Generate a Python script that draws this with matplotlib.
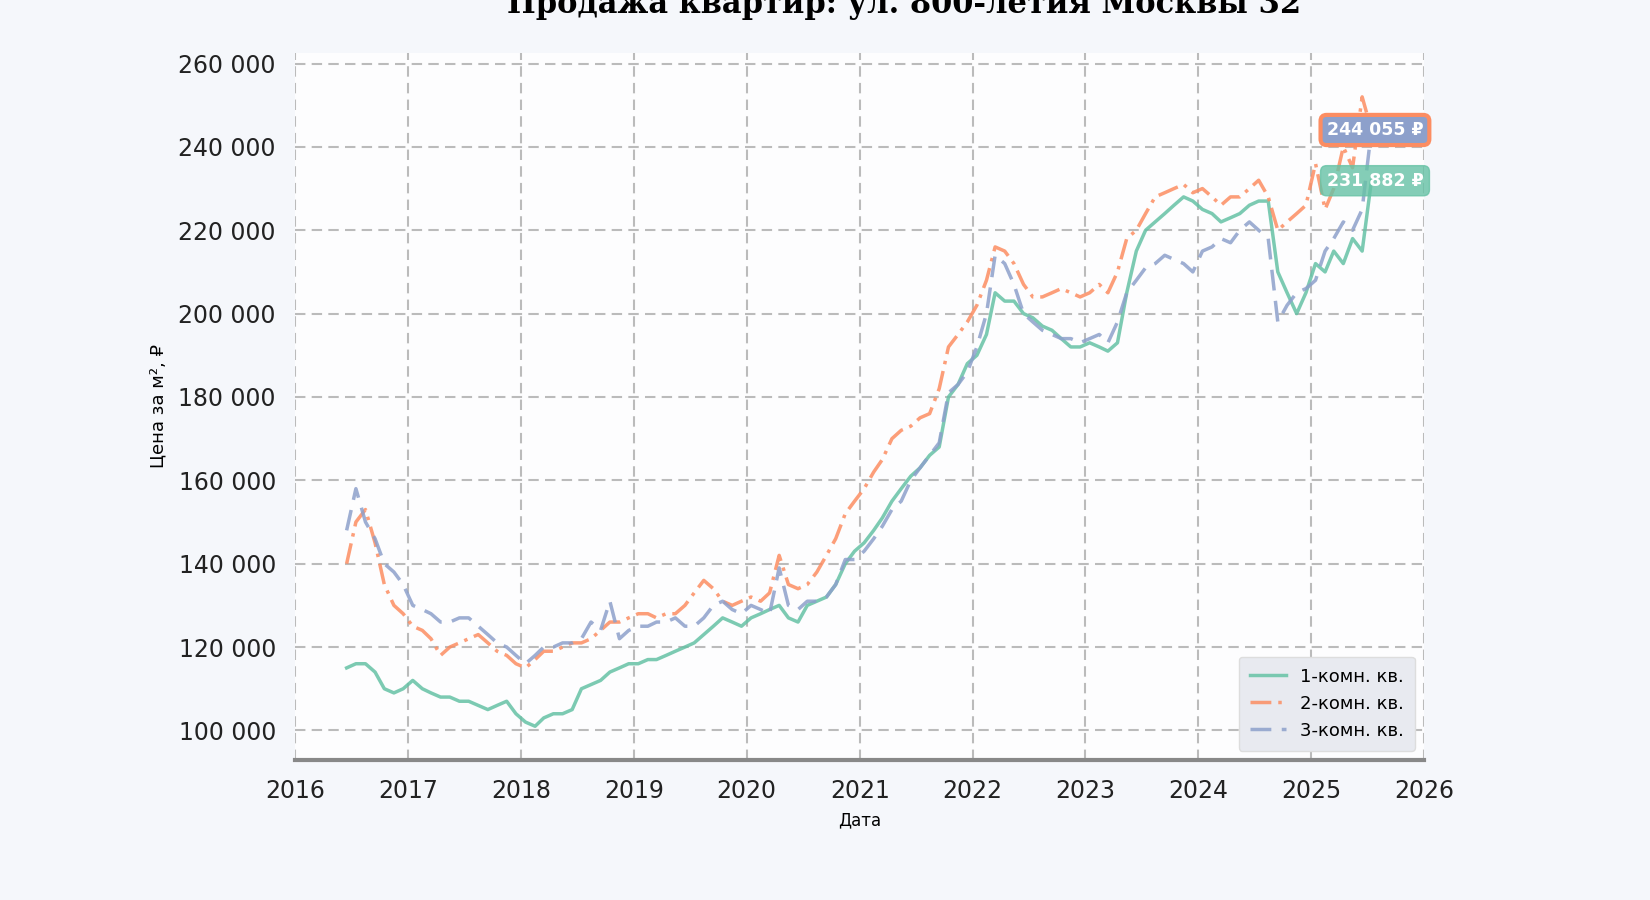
import numpy as np
import pandas as pd
import matplotlib
matplotlib.use("Agg")
import matplotlib.pyplot as plt
import matplotlib.ticker as mticker
import matplotlib.dates as mdates

dates = pd.date_range("2016-06-01", "2025-07-01", freq="MS") + pd.Timedelta(days=14)

one_room = [115, 116, 116, 114, 110, 109, 110,
            112, 110, 109, 108, 108, 107, 107, 106, 105, 106, 107, 104,
            102, 101, 103, 104, 104, 105, 110, 111, 112, 114, 115, 116,
            116, 117, 117, 118, 119, 120, 121, 123, 125, 127, 126, 125,
            127, 128, 129, 130, 127, 126, 130, 131, 132, 135, 140, 143,
            145, 148, 151, 155, 158, 161, 163, 166, 168, 180, 183, 188,
            190, 195, 205, 203, 203, 200, 199, 197, 196, 194, 192, 192,
            193, 192, 191, 193, 205, 215, 220, 222, 224, 226, 228, 227,
            225, 224, 222, 223, 224, 226, 227, 227, 210, 205, 200, 205,
            212, 210, 215, 212, 218, 215, 231.882]
two_room = [140, 150, 153, 145, 135, 130, 128,
            125, 124, 122, 118, 120, 121, 122, 123, 121, 119, 118, 116,
            115, 117, 119, 119, 120, 121, 121, 122, 124, 126, 126, 127,
            128, 128, 127, 128, 128, 130, 133, 136, 134, 131, 130, 131,
            132, 131, 133, 142, 135, 134, 135, 138, 142, 146, 152, 155,
            158, 162, 165, 170, 172, 173, 175, 176, 182, 192, 195, 198,
            202, 208, 216, 215, 212, 207, 204, 204, 205, 206, 205, 204,
            205, 207, 205, 210, 218, 220, 224, 228, 229, 230, 231, 229,
            230, 228, 226, 228, 228, 230, 232, 228, 220, 222, 224, 226,
            236, 225, 230, 240, 235, 252, 244.055]
three_room = [148, 158, 150, 146, 140, 138, 135,
              130, 129, 128, 126, 126, 127, 127, 125, 123, 121, 120, 118,
              116, 118, 120, 120, 121, 121, 122, 126, 124, 131, 122, 124,
              125, 125, 126, 126, 127, 125, 125, 127, 130, 131, 129, 128,
              130, 129, 128, 139, 130, 129, 131, 131, 132, 135, 141, 141,
              143, 146, 149, 153, 155, 160, 163, 166, 169, 181, 183, 186,
              192, 200, 214, 212, 207, 200, 198, 196, 195, 194, 194, 193,
              194, 195, 193, 198, 205, 208, 211, 212, 214, 213, 212, 210,
              215, 216, 218, 217, 220, 222, 220, 218, 198, 202, 205, 206,
              208, 215, 218, 222, 220, 225, 244.055]

labels = ["1-комн. кв.", "2-комн. кв.", "3-комн. кв."]
colors = ["#66c2a5", "#fc8d62", "#8da0cb"]
styles = ["-", (0, (6, 2, 1, 2)), (0, (6, 3))]

fig = plt.figure(figsize=(16.5, 9), dpi=100, facecolor="#f5f7fb")
ax = fig.add_axes([0.179, 0.156, 0.684, 0.785])
ax.set_facecolor("#fdfdfe")

for vals, lab, col, ls in zip([one_room, two_room, three_room], labels, colors, styles):
    ax.plot(dates, np.array(vals) * 1000, color=col, lw=2.5, ls=ls, alpha=0.85, label=lab)

ax.set_xlim(pd.Timestamp("2016-01-01"), pd.Timestamp("2026-01-01"))
ax.set_ylim(93000, 262500)
ax.yaxis.set_major_locator(mticker.MultipleLocator(20000))
ax.yaxis.set_major_formatter(mticker.FuncFormatter(lambda v, p: f"{int(v):,}".replace(",", " ")))
ax.xaxis.set_major_locator(mdates.YearLocator())
ax.xaxis.set_major_formatter(mdates.DateFormatter("%Y"))
ax.tick_params(labelsize=17, colors="#222222", length=0, pad=14)
ax.grid(True, ls=(0, (5, 3)), color="#bbbbbb", lw=1.5)
for s in ["top", "right", "left"]:
    ax.spines[s].set_visible(False)
ax.spines["bottom"].set_color("#888888")
ax.spines["bottom"].set_linewidth(3)

ax.set_xlabel("Дата", fontsize=12, labelpad=6)
ax.set_ylabel("Цена за м², ₽", fontsize=13, labelpad=8)
fig.text(0.548, 0.995, "Продажа квартир: ул. 800-летия Москвы 32", ha="center", va="center",
         fontsize=22, fontweight="bold", family="DejaVu Serif")

xt = pd.Timestamp("2025-02-20")
ax.text(xt, 244055, "244 055 ₽", fontsize=12.5, fontweight="bold", color="white", va="center",
        bbox=dict(boxstyle="round,pad=0.35", fc="#8da0cb", ec="#fc8d62", lw=3))
ax.text(xt, 231882, "231 882 ₽", fontsize=12.5, fontweight="bold", color="white", va="center",
        bbox=dict(boxstyle="round,pad=0.35", fc="#66c2a5", ec="#66c2a5", alpha=0.8))

leg = ax.legend(loc="lower right", fontsize=13, facecolor="#e8eaf0", edgecolor="#dddddd",
                framealpha=1, borderpad=0.6)
fig.savefig("out.png", dpi=100, facecolor=fig.get_facecolor())
